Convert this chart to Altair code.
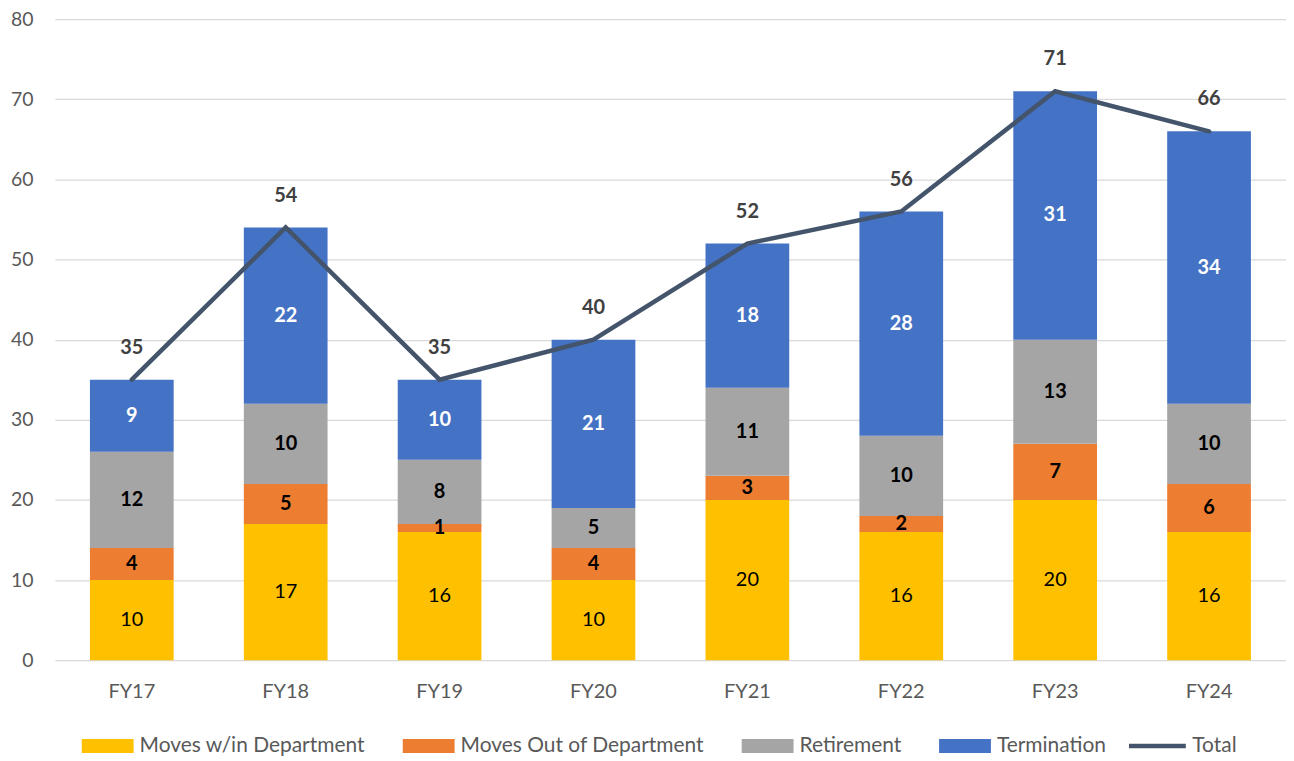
import altair as alt
import pandas as pd

categories = ["FY17", "FY18", "FY19", "FY20", "FY21", "FY22", "FY23", "FY24"]
series_names = ["Moves w/in Department", "Moves Out of Department", "Retirement", "Termination"]
moves_within = [10, 17, 16, 10, 20, 16, 20, 16]
moves_out = [4, 5, 1, 4, 3, 2, 7, 6]
retirement = [12, 10, 8, 5, 11, 10, 13, 10]
termination = [9, 22, 10, 21, 18, 28, 31, 34]
total = [35, 54, 35, 40, 52, 56, 71, 66]
colors = ["#FFC000", "#ED7D31", "#A5A5A5", "#4472C4"]
line_color = "#44546A"
FONT = "Lato"

rows = []
for s_i, (name, vals) in enumerate(zip(series_names, [moves_within, moves_out, retirement, termination])):
    for c, v in zip(categories, vals):
        rows.append({"cat": c, "series": name, "value": v, "order": s_i})
df = pd.DataFrame(rows)
tot_df = pd.DataFrame({"cat": categories, "total": total, "series": ["Total"] * len(categories)})

x_enc = alt.X("cat:N", sort=categories, title=None,
              scale=alt.Scale(paddingInner=0.456, paddingOuter=0.228),
              axis=alt.Axis(labelAngle=0, domain=False, ticks=False, labelFont=FONT,
                            labelFontSize=20, labelColor="#595959", labelPadding=21))
y_scale = alt.Scale(domain=[0, 80], nice=False)
y_axis = alt.Axis(values=list(range(0, 81, 10)), domain=False, ticks=False, grid=True,
                  gridColor="#D9D9D9", gridWidth=1.3, labelFont=FONT, labelFontSize=19.5,
                  labelColor="#595959", labelPadding=22, title=None)

bars = alt.Chart(df).mark_bar().encode(
    x=x_enc,
    y=alt.Y("value:Q", stack="zero", scale=y_scale, axis=y_axis),
    color=alt.Color("series:N", scale=alt.Scale(domain=series_names, range=colors),
                    legend=alt.Legend(title=None, orient="none", direction="horizontal",
                                      legendX=27, legendY=703, padding=0,
                                      symbolType="M-1,-0.27H1V0.27H-1Z", symbolSize=2704,
                                      symbolStrokeWidth=0, symbolOpacity=1,
                                      labelFont=FONT, labelFontSize=21, labelColor="#595959",
                                      labelOffset=6, columnPadding=37, labelLimit=400)),
    order=alt.Order("order:Q"),
)

stacked = alt.Chart(df).transform_stack(
    stack="value", groupby=["cat"], as_=["y0", "y1"], sort=[alt.SortField("order")]
).transform_calculate(mid="(datum.y0 + datum.y1) / 2")

def seg_text(names, color, weight):
    return stacked.transform_filter(
        alt.FieldOneOfPredicate(field="series", oneOf=names)
    ).mark_text(font=FONT, fontSize=20, fontWeight=weight, color=color, baseline="middle").encode(
        x=alt.X("cat:N", sort=categories),
        y=alt.Y("mid:Q", scale=y_scale),
        text="value:Q",
    )

t1 = seg_text(["Moves w/in Department"], "#000000", "normal")
t2 = seg_text(["Moves Out of Department", "Retirement"], "#000000", "bold")
t3 = seg_text(["Termination"], "#FFFFFF", "bold")

line = alt.Chart(tot_df).mark_line(strokeWidth=4.5, strokeCap="round", strokeJoin="miter").encode(
    x=alt.X("cat:N", sort=categories),
    y=alt.Y("total:Q", scale=y_scale),
    stroke=alt.Stroke("series:N", scale=alt.Scale(domain=["Total"], range=[line_color]),
                      legend=alt.Legend(title=None, orient="none", legendX=1075, legendY=698,
                                        padding=0,
                                        symbolType="stroke", symbolSize=3249,
                                        symbolStrokeWidth=4.5,
                                        labelFont=FONT, labelFontSize=21, labelColor="#595959",
                                        labelOffset=4)),
)

tot_text = alt.Chart(tot_df).mark_text(font=FONT, fontSize=20, fontWeight="bold",
                                       color="#404040", dy=-32, baseline="middle").encode(
    x=alt.X("cat:N", sort=categories),
    y=alt.Y("total:Q", scale=y_scale),
    text="total:Q",
)

chart = alt.layer(bars, t1, t2, t3, line, tot_text).properties(
    width=1235, height=643,
    padding={"left": 47, "top": 10, "right": 0, "bottom": 110},
    autosize=alt.AutoSizeParams(type="none"),
).configure_view(stroke=None)

chart.save("out.html", embed_options={"renderer": "svg", "actions": False})
